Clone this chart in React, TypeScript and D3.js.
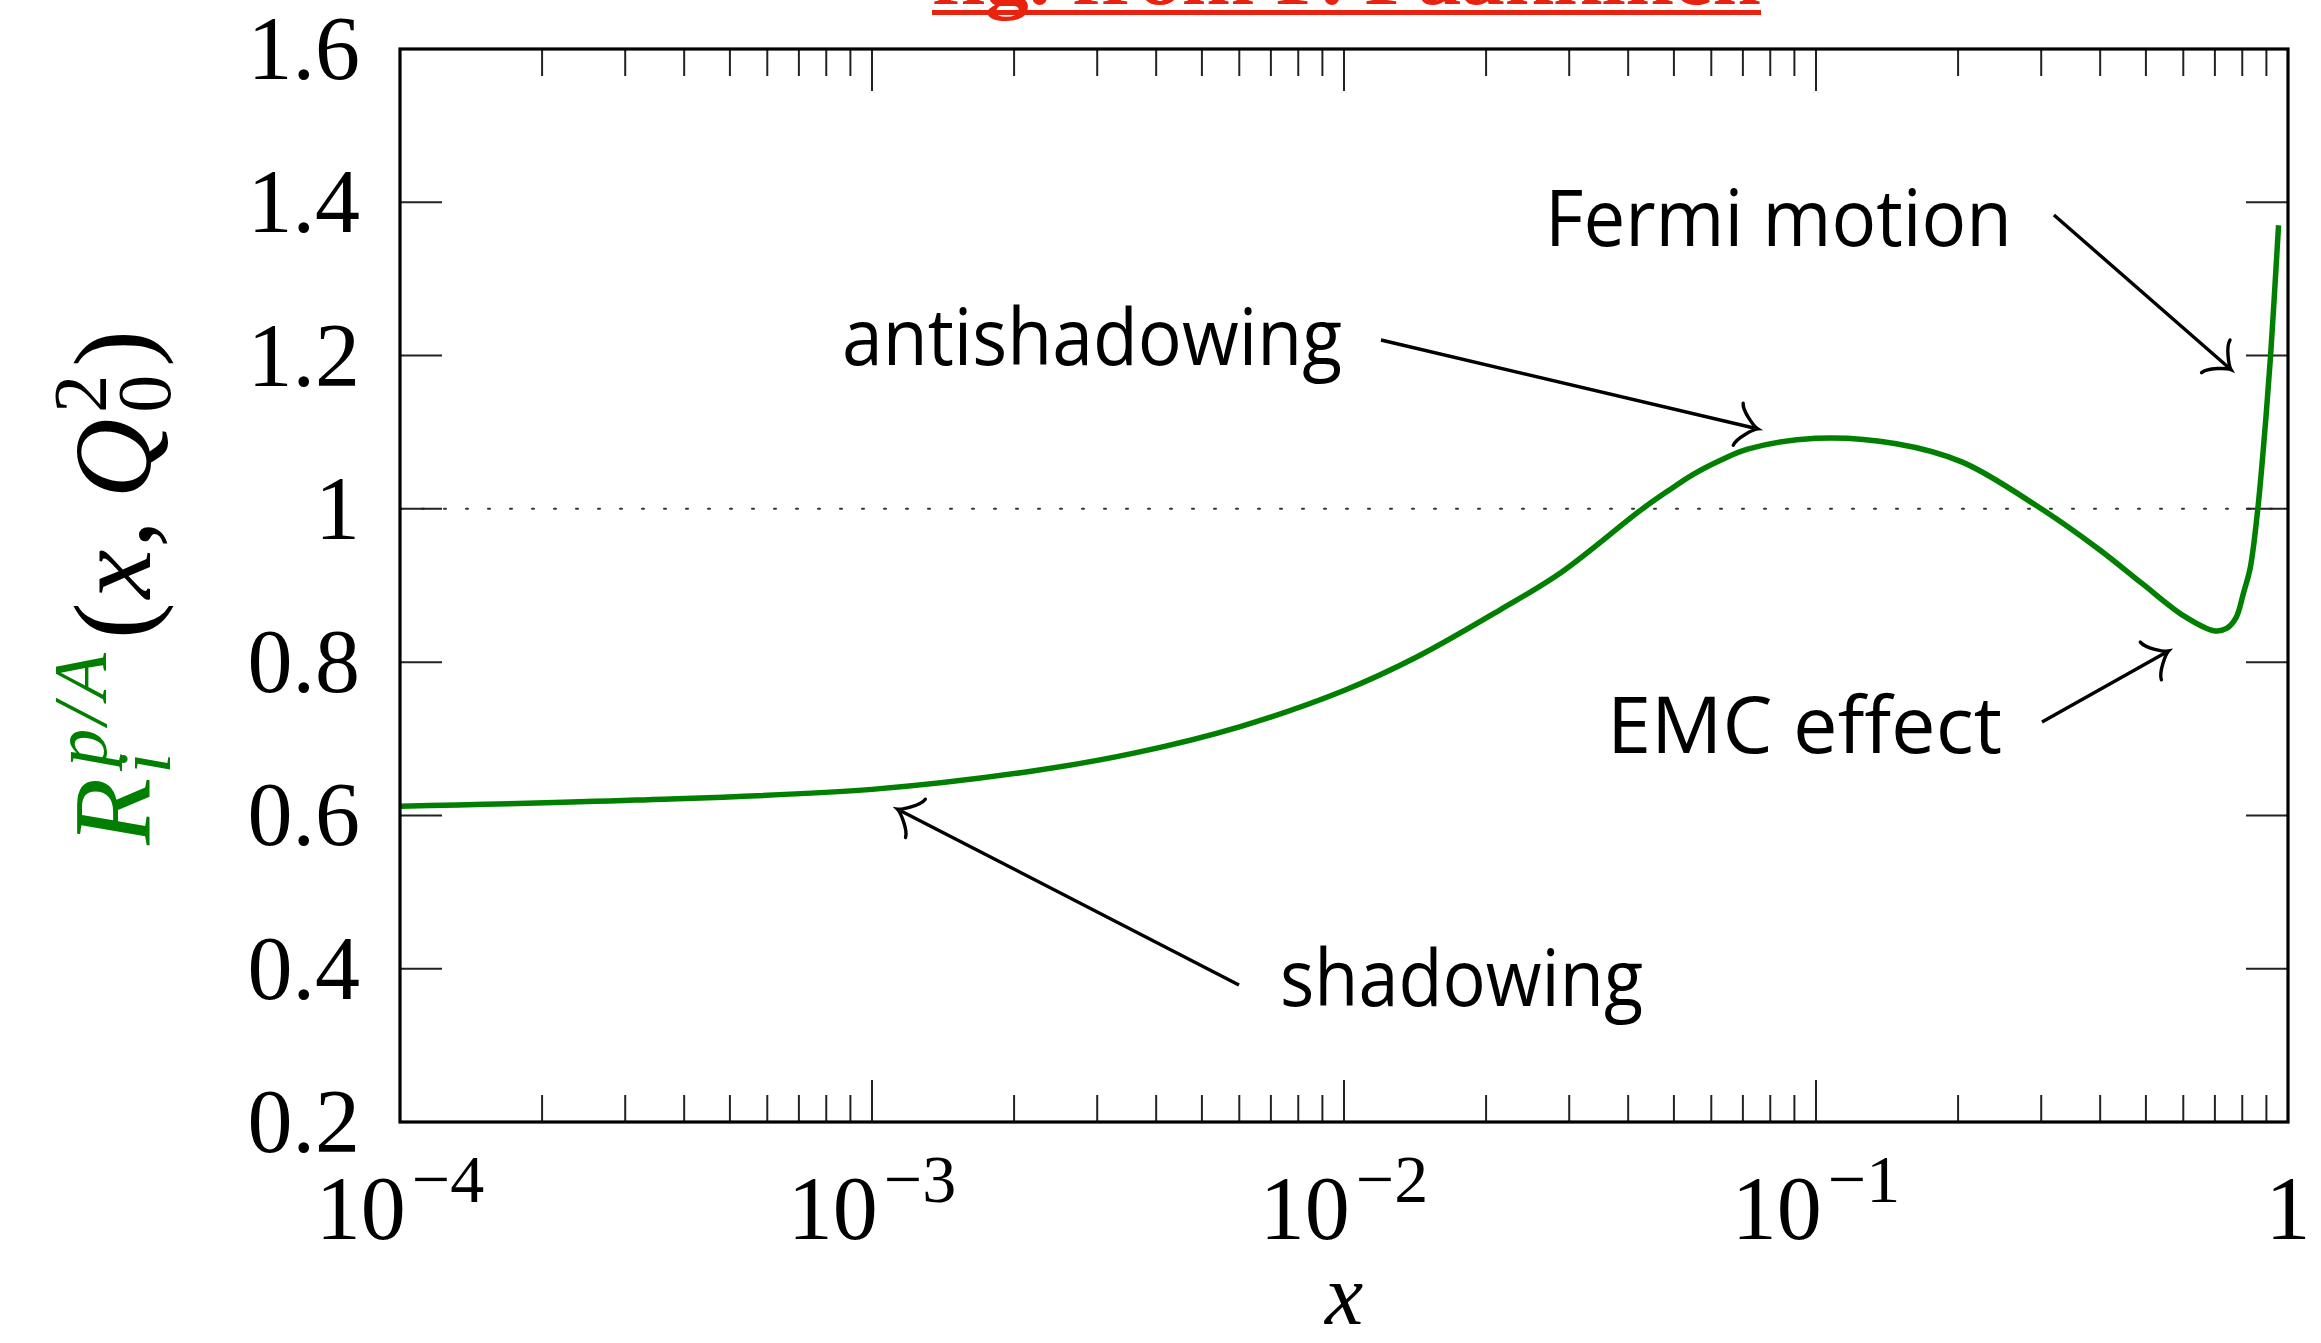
import React from 'react';
import * as d3 from 'd3';

// ── Data ──────────────────────────────────────────────────────────────
const X_VALUES = [
  0.0001, 0.000316, 0.001, 0.00219, 0.00363, 0.00603, 0.01, 0.01429, 0.02138,
  0.02884, 0.04266, 0.0490, 0.05495, 0.0631, 0.07161, 0.1, 0.1479, 0.2042,
  0.2951, 0.398, 0.4898, 0.6026, 0.6966, 0.7413, 0.7762, 0.8054, 0.8318, 0.863,
  0.8913, 0.9183, 0.955,
];
const R_VALUES = [
  0.612, 0.62, 0.634, 0.658, 0.682, 0.716, 0.763, 0.807, 0.868, 0.917, 0.999,
  1.025, 1.045, 1.064, 1.078, 1.092, 1.085, 1.061, 1.003, 0.947, 0.903, 0.86,
  0.841, 0.844, 0.858, 0.891, 0.923, 1.0, 1.095, 1.199, 1.37,
];

const Y_TICKS = [0.2, 0.4, 0.6, 0.8, 1, 1.2, 1.4, 1.6];
const Y_TICK_LABELS = ['0.2', '0.4', '0.6', '0.8', '1', '1.2', '1.4', '1.6'];
const X_MAJOR = [1e-4, 1e-3, 1e-2, 1e-1, 1];
const X_EXPONENTS = ['−4', '−3', '−2', '−1', ''];
const X_MINOR_MULTIPLIERS = [2, 3, 4, 5, 6, 7, 8, 9];

// annotation arrows, in data coordinates (x, R)
const ANNOT_LABELS = ['shadowing', 'antishadowing', 'Fermi motion', 'EMC effect'];
const ANNOT_FROM = [[0.005991, 0.3788], [0.011977, 1.2203], [0.3192, 1.3834], [0.3012, 0.7219]];
const ANNOT_TO = [[0.001152, 0.6058], [0.07388, 1.1055], [0.7462, 1.1851], [0.5487, 0.8119]];

// ── Layout ────────────────────────────────────────────────────────────
const W = 2321;
const H = 1343;
const M = { left: 400, right: 2288, top: 49, bottom: 1122 };
const GREEN = '#007f00';
const SERIF = '"Liberation Serif", "DejaVu Serif", serif';
const SANS = '"Open Sans", "DejaVu Sans", sans-serif';
const MAJOR_LEN = 42;
const MINOR_LEN = 27;

// label boxes for annotations: [x, baseline, width]
const ANNOT_TEXT_POS = [[1280, 1006, 363], [842, 365, 500], [1545, 246, 467], [1607, 753, 395]];

function arrowHead(tx: number, ty: number, fx: number, fy: number) {
  // TikZ "to" style arrow tip
  const len = Math.hypot(tx - fx, ty - fy);
  const ux = (tx - fx) / len;
  const uy = (ty - fy) / len;
  const nx = -uy;
  const ny = ux;
  const d = 5.4;
  const p = (a: number, b: number) => `${tx + ux * a * d + nx * b * d},${ty + uy * a * d + ny * b * d}`;
  return `M${p(-3, 4)} C${p(-2.75, 2.5)} ${p(0, 0.25)} ${p(0.75, 0)} C${p(0, -0.25)} ${p(-2.75, -2.5)} ${p(-3, -4)}`;
}

export default function App() {
  const x = d3.scaleLog().domain([1e-4, 1]).range([M.left, M.right]);
  const y = d3.scaleLinear().domain([0.2, 1.6]).range([M.bottom, M.top]);

  const pts: [number, number][] = X_VALUES.map((v, i) => [x(v), y(R_VALUES[i])]);
  const line = d3.line().curve(d3.curveCatmullRom.alpha(0.5))(pts) || '';

  const minorTicks: number[] = [];
  X_MAJOR.slice(0, -1).forEach((m) => X_MINOR_MULTIPLIERS.forEach((k) => minorTicks.push(m * k)));

  return (
    <div style={{ position: 'absolute', left: 0, top: 0, width: W, height: H, background: '#fff' }}>
      <svg width={W} height={H} viewBox={`0 0 ${W} ${H}`} style={{ display: 'block' }}>
        <rect width={W} height={H} fill="#fff" />

        {/* clipped red caption at the very top */}
        <text x={932} y={4} fontFamily={SERIF} fontWeight="bold" fontSize={80} fill="#e8220e"
          textLength={829} lengthAdjust="spacingAndGlyphs">fig. from P. Paakkinen</text>
        <rect x={932} y={10} width={829} height={5} fill="#e8220e" />

        {/* reference line at R = 1 */}
        <line x1={M.left} x2={M.right} y1={y(1)} y2={y(1)} stroke="#333" strokeWidth={2}
          strokeDasharray="2 20" strokeLinecap="round" />

        {/* ticks */}
        <g stroke="#222" strokeWidth={2}>
          {X_MAJOR.map((v) => (
            <g key={'M' + v}>
              <line x1={x(v)} x2={x(v)} y1={M.bottom} y2={M.bottom - MAJOR_LEN} />
              <line x1={x(v)} x2={x(v)} y1={M.top} y2={M.top + MAJOR_LEN} />
            </g>
          ))}
          {minorTicks.map((v) => (
            <g key={'m' + v}>
              <line x1={x(v)} x2={x(v)} y1={M.bottom} y2={M.bottom - MINOR_LEN} />
              <line x1={x(v)} x2={x(v)} y1={M.top} y2={M.top + MINOR_LEN} />
            </g>
          ))}
          {Y_TICKS.map((v) => (
            <g key={'y' + v}>
              <line x1={M.left} x2={M.left + MAJOR_LEN} y1={y(v)} y2={y(v)} />
              <line x1={M.right} x2={M.right - MAJOR_LEN} y1={y(v)} y2={y(v)} />
            </g>
          ))}
        </g>

        {/* curve */}
        <path d={line} fill="none" stroke={GREEN} strokeWidth={5.5} strokeLinejoin="round" />

        {/* frame */}
        <rect x={M.left} y={M.top} width={M.right - M.left} height={M.bottom - M.top}
          fill="none" stroke="#000" strokeWidth={3.2} />

        {/* y tick labels */}
        {Y_TICKS.map((v, i) => (
          <text key={'yl' + v} x={360} y={y(v) + 30} textAnchor="end" fontFamily={SERIF}
            fontSize={90} fill="#000">{Y_TICK_LABELS[i]}</text>
        ))}

        {/* x tick labels */}
        {X_MAJOR.map((v, i) => (
          <text key={'xl' + v} x={x(v)} y={1239} textAnchor="middle" fontFamily={SERIF}
            fontSize={90} fill="#000">
            {X_EXPONENTS[i] ? '10' : '1'}
            {X_EXPONENTS[i] ? <tspan dx={6} dy={-37} fontSize={68}>{X_EXPONENTS[i]}</tspan> : null}
          </text>
        ))}

        {/* axis labels */}
        <text x={(M.left + M.right) / 2} y={1324} textAnchor="middle" fontFamily={SERIF}
          fontStyle="italic" fontSize={86} fill="#000">x</text>

        <g transform={`translate(150,${(M.top + M.bottom) / 2 + 2}) rotate(-90)`}>
          <text x={0} y={0} textAnchor="middle" fontFamily={SERIF} fontSize={110} fill="#000">
            <tspan fill={GREEN} fontStyle="italic">R</tspan><tspan fill={GREEN} fontStyle="italic" fontSize={76} dx={4} dy={20}>i</tspan><tspan fill={GREEN} fontStyle="italic" fontSize={76} dx={-14} dy={-64} letterSpacing={4}>p/A</tspan><tspan dx={10} dy={44}>(</tspan><tspan fontStyle="italic" dx={4}>x</tspan><tspan dx={2}>,</tspan><tspan fontStyle="italic" dx={22}>Q</tspan><tspan fontSize={76} dx={6} dy={-44}>2</tspan><tspan fontSize={76} dx={-38} dy={64}>0</tspan><tspan dx={8} dy={-20}>)</tspan>
          </text>
        </g>

        {/* annotations */}
        {ANNOT_LABELS.map((lab, i) => {
          const fx = x(ANNOT_FROM[i][0]);
          const fy = y(ANNOT_FROM[i][1]);
          const tx = x(ANNOT_TO[i][0]);
          const ty = y(ANNOT_TO[i][1]);
          const [lx, ly, lw] = ANNOT_TEXT_POS[i];
          return (
            <g key={lab}>
              <line x1={fx} y1={fy} x2={tx} y2={ty} stroke="#000" strokeWidth={3.4} />
              <path d={arrowHead(tx, ty, fx, fy)} fill="none" stroke="#000" strokeWidth={3.4}
                strokeLinecap="round" />
              <text x={lx} y={ly} fontFamily={SANS} fontSize={78} fill="#000" textLength={lw}
                lengthAdjust="spacingAndGlyphs">{lab}</text>
            </g>
          );
        })}
      </svg>
    </div>
  );
}
